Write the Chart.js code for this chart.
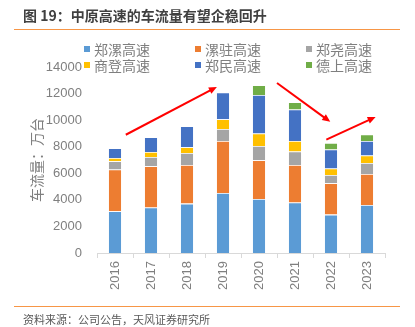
<!DOCTYPE html>
<html>
<head>
<meta charset="utf-8">
<script src="https://cdn.jsdelivr.net/npm/chart.js@4.4.0/dist/chart.umd.min.js"></script>
<style>
    html, body { margin: 0; padding: 0; background: #fff; }
    #wrap { position: relative; width: 415px; height: 327px; overflow: hidden; font-family: "Noto Sans CJK SC", sans-serif; }
    #wrap canvas { position: absolute; left: 0; top: 0; }
    .title { position: absolute; left: 23px; top: 5px; line-height: 20px; font-size: 14px; font-weight: bold; color: #404040; white-space: nowrap; }
    .rule { position: absolute; left: 14px; width: 386px; height: 0; border-top: 1.5px solid #F79646; }
    .source { position: absolute; left: 23px; top: 311px; line-height: 16px; font-size: 11px; color: #595959; white-space: nowrap; }
    .legend-item { position: absolute; line-height: 16px; font-size: 14px; color: #7f7f7f; white-space: nowrap; }
    .legend-item i { display: inline-block; width: 6px; height: 6px; margin-right: 4.5px; vertical-align: 3px; }
</style>
</head>
<body>
<div id="wrap">
    <canvas id="trafficChart" width="415" height="327"></canvas>
    <div class="title">图 19：中原高速的车流量有望企稳回升</div>
    <div class="rule" style="top:29px"></div>
    <div id="legend"></div>
    <div class="rule" style="top:306px"></div>
    <div class="source">资料来源：公司公告，天风证券研究所</div>
</div>
<script>
const years = ['2016', '2017', '2018', '2019', '2020', '2021', '2022', '2023'];
const zhengLuo = [3140, 3420, 3720, 4520, 4070, 3800, 2890, 3620];
const luoZhu = [3140, 3110, 2910, 3915, 2910, 2830, 2360, 2330];
const zhengYao = [625, 700, 900, 905, 1080, 1005, 625, 830];
const shangDeng = [250, 375, 430, 730, 930, 800, 480, 555];
const zhengMin = [730, 1105, 1580, 2010, 2910, 2365, 1430, 1100];
const deShang = [0, 0, 0, 0, 730, 550, 500, 480];
const yTicks = [0, 2000, 4000, 6000, 8000, 10000, 12000, 14000];

// trend arrows, in data units: [fromIndex, fromValue, toIndex, toValue]
const arrows = [
    [0.3, 8900, 2.83, 12500],
    [4.5, 12800, 5.98, 9870],
    [5.87, 8540, 7.24, 10240]
];

const series = [
    { label: '郑漯高速', data: zhengLuo, color: '#5B9BD5' },
    { label: '漯驻高速', data: luoZhu, color: '#ED7D31' },
    { label: '郑尧高速', data: zhengYao, color: '#A5A5A5' },
    { label: '商登高速', data: shangDeng, color: '#FFC000' },
    { label: '郑民高速', data: zhengMin, color: '#4472C4' },
    { label: '德上高速', data: deShang, color: '#70AD47' }
];

// legend, 3 columns x 2 rows
const legendEl = document.getElementById('legend');
series.forEach(function (s, i) {
    let item = document.createElement('div');
    item.className = 'legend-item';
    item.style.left = (83.5 + (i % 3) * 111) + 'px';
    item.style.top = (41 + Math.floor(i / 3) * 16) + 'px';
    item.innerHTML = '<i style="background:' + s.color + '"></i>' + s.label;
    legendEl.appendChild(item);
});

const trendArrows = {
    id: 'trendArrows',
    afterDatasetsDraw(chart) {
        const { ctx, scales: { x, y } } = chart;
        ctx.save();
        ctx.strokeStyle = '#FF0000';
        ctx.fillStyle = '#FF0000';
        ctx.lineWidth = 2;
        arrows.forEach(function (a) {
            let x0 = x.getPixelForValue(a[0]), y0 = y.getPixelForValue(a[1]);
            let x1 = x.getPixelForValue(a[2]), y1 = y.getPixelForValue(a[3]);
            let ang = Math.atan2(y1 - y0, x1 - x0);
            let head = 8, half = 3.5;
            ctx.beginPath();
            ctx.moveTo(x0, y0);
            ctx.lineTo(x1 - Math.cos(ang) * head * 0.8, y1 - Math.sin(ang) * head * 0.8);
            ctx.stroke();
            ctx.beginPath();
            ctx.moveTo(x1, y1);
            ctx.lineTo(x1 - Math.cos(ang) * head - Math.sin(ang) * half, y1 - Math.sin(ang) * head + Math.cos(ang) * half);
            ctx.lineTo(x1 - Math.cos(ang) * head + Math.sin(ang) * half, y1 - Math.sin(ang) * head - Math.cos(ang) * half);
            ctx.closePath();
            ctx.fill();
        });
        ctx.restore();
    }
};

const tickFont = { family: '"Liberation Sans", Arial, sans-serif', size: 13 };

new Chart(document.getElementById('trafficChart'), {
    type: 'bar',
    data: {
        labels: years,
        datasets: series.map(function (s) {
            return {
                label: s.label,
                data: s.data,
                backgroundColor: s.color,
                borderColor: 'rgba(255, 255, 255, 0.55)',
                borderWidth: 0.8,
                barPercentage: 0.38,
                categoryPercentage: 1
            };
        })
    },
    options: {
        responsive: false,
        animation: false,
        layout: {
            padding: { top: 67, right: 30, bottom: 34, left: 28 }
        },
        scales: {
            x: {
                stacked: true,
                grid: {
                    drawOnChartArea: false,
                    offset: true,
                    tickLength: 5,
                    color: '#d9d9d9'
                },
                border: { color: '#d9d9d9' },
                ticks: {
                    minRotation: 90,
                    maxRotation: 90,
                    padding: 3,
                    color: '#7f7f7f',
                    font: tickFont
                },
                afterFit(scale) { scale.height = 40; }
            },
            y: {
                stacked: true,
                min: 0,
                max: 14000,
                afterBuildTicks(scale) { scale.ticks = yTicks.map(v => ({ value: v })); },
                grid: { display: false, drawTicks: false },
                border: { display: false },
                ticks: {
                    padding: 15,
                    color: '#7f7f7f',
                    font: tickFont,
                    callback: function (value) { return String(value); }
                },
                title: {
                    display: true,
                    text: '车流量：万台',
                    color: '#7f7f7f',
                    padding: 0,
                    font: { family: '"Noto Sans CJK SC", sans-serif', size: 14 }
                },
                afterFit(scale) { scale.width = 69; }
            }
        },
        plugins: {
            legend: { display: false },
            tooltip: { enabled: false }
        }
    },
    plugins: [trendArrows]
});
</script>
</body>
</html>
